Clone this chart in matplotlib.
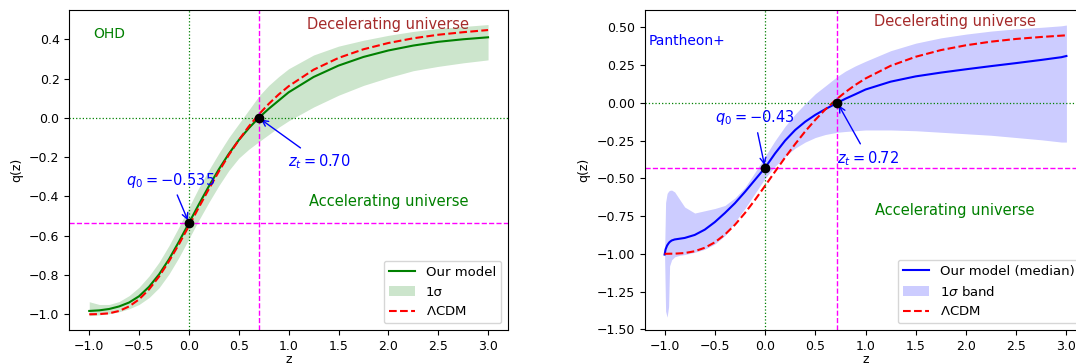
import matplotlib
matplotlib.use("Agg")
import matplotlib.pyplot as plt

# ---------------- data ----------------
# LambdaCDM reference curve
z_lcdm = [-1.0, -0.9, -0.8, -0.7, -0.6, -0.5, -0.4, -0.3, -0.2, -0.1, 0.0,
          0.1, 0.2, 0.3, 0.4, 0.5, 0.6, 0.7, 0.8, 0.9, 1.0,
          1.25, 1.5, 1.75, 2.0, 2.25, 2.5, 2.75, 3.0]
q_lcdm = [-1.000, -0.999, -0.995, -0.983, -0.960, -0.924, -0.873, -0.808, -0.730, -0.643, -0.550,
          -0.455, -0.362, -0.273, -0.189, -0.113, -0.044, 0.017, 0.071, 0.119, 0.161,
          0.245, 0.305, 0.349, 0.381, 0.405, 0.423, 0.436, 0.447]

# OHD panel
z_ohd = z_lcdm
q_ohd = [-0.983, -0.980, -0.973, -0.960, -0.940, -0.908, -0.860, -0.797, -0.720, -0.630, -0.535,
         -0.440, -0.348, -0.262, -0.183, -0.113, -0.053, 0.000, 0.046, 0.088, 0.130,
         0.208, 0.266, 0.310, 0.343, 0.368, 0.387, 0.400, 0.410]
ohd_hi = [-0.936, -0.950, -0.950, -0.935, -0.905, -0.862, -0.805, -0.735, -0.650, -0.555, -0.455,
          -0.355, -0.265, -0.180, -0.100, -0.030, 0.040, 0.110, 0.165, 0.210, 0.250,
          0.320, 0.365, 0.395, 0.420, 0.440, 0.455, 0.465, 0.475]
ohd_lo = [-1.007, -1.003, -0.997, -0.987, -0.972, -0.950, -0.915, -0.865, -0.795, -0.710, -0.615,
          -0.520, -0.430, -0.345, -0.268, -0.205, -0.160, -0.122, -0.085, -0.048, -0.015,
          0.055, 0.115, 0.165, 0.205, 0.240, 0.262, 0.280, 0.295]
q0_ohd, zt_ohd = -0.535, 0.70

# Pantheon+ panel
z_pan = [-1.0, -0.99, -0.975, -0.96, -0.95, -0.93, -0.9, -0.85, -0.8, -0.7, -0.6, -0.5,
         -0.4, -0.3, -0.2, -0.1, 0.0, 0.1, 0.2, 0.3, 0.4, 0.5, 0.6, 0.72, 0.8, 0.9, 1.0,
         1.25, 1.5, 1.75, 2.0, 2.25, 2.5, 2.75, 2.95, 3.0]
q_pan = [-1.005, -0.970, -0.945, -0.930, -0.922, -0.912, -0.905, -0.900, -0.895, -0.875, -0.840, -0.790,
         -0.730, -0.665, -0.590, -0.510, -0.430, -0.335, -0.250, -0.180, -0.125, -0.080, -0.042, 0.000,
         0.027, 0.057, 0.088, 0.140, 0.175, 0.200, 0.222, 0.243, 0.263, 0.284, 0.302, 0.310]
pan_hi = [-0.990, -0.660, -0.600, -0.585, -0.580, -0.578, -0.590, -0.640, -0.690, -0.730, -0.715, -0.700,
          -0.680, -0.630, -0.560, -0.460, -0.355, -0.250, -0.155, -0.075, -0.005, 0.060, 0.112, 0.175,
          0.210, 0.245, 0.275, 0.345, 0.395, 0.430, 0.455, 0.475, 0.490, 0.500, 0.510, 0.515]
pan_lo = [-1.020, -1.380, -1.420, -1.350, -1.080, -1.040, -1.020, -1.010, -1.005, -0.990, -0.970, -0.935,
          -0.880, -0.790, -0.700, -0.600, -0.500, -0.420, -0.355, -0.300, -0.260, -0.230, -0.210, -0.195,
          -0.190, -0.185, -0.180, -0.180, -0.185, -0.195, -0.205, -0.215, -0.230, -0.245, -0.260, -0.260]
q0_pan, zt_pan = -0.43, 0.72

# ---------------- figure ----------------
W, H = 1076, 364
fig = plt.figure(figsize=(W / 100, H / 100), dpi=100)
axL = fig.add_axes([69.3 / W, 34 / H, 438.7 / W, 320 / H])
axR = fig.add_axes([644.5 / W, 34 / H, 442 / W, 320 / H])

TICK_FS = 9
TXT_FS = 10.5


def panel(ax, z, q, lo, hi, col, q0, zt, lab_model, lab_band, name, name_xy,
          q0_txt, q0_xy, zt_txt, zt_xy, dec_xy, acc_xy, ylim):
    ax.plot(z, q, color=col, lw=1.5, label=lab_model)
    ax.fill_between(z, lo, hi, color=col, alpha=0.2, linewidth=0, label=lab_band)
    ax.plot(z_lcdm, q_lcdm, 'r--', lw=1.5, label=r'$\Lambda$CDM')
    ax.axhline(0, color='green', ls=':', lw=0.9)
    ax.axvline(0, color='green', ls=':', lw=0.9)
    ax.axvline(zt, color='magenta', ls='--', lw=1.0)
    ax.axhline(q0, color='magenta', ls='--', lw=1.0)
    ax.plot([0, zt], [q0, 0], 'ko', ms=6, zorder=5)
    ax.annotate(q0_txt, xy=(0, q0), xytext=q0_xy, color='blue', fontsize=10.5,
                ha='center', va='center',
                arrowprops=dict(arrowstyle='->', color='blue', lw=1))
    ax.annotate(zt_txt, xy=(zt, 0), xytext=zt_xy, color='blue', fontsize=10.5,
                ha='center', va='center',
                arrowprops=dict(arrowstyle='->', color='blue', lw=1))
    ax.text(dec_xy[0], dec_xy[1], 'Decelerating universe', color='brown',
            fontsize=TXT_FS, ha='center', va='center')
    ax.text(acc_xy[0], acc_xy[1], 'Accelerating universe', color='green',
            fontsize=TXT_FS, ha='center', va='center')
    ax.text(name_xy[0], name_xy[1], name, color=col, fontsize=10,
            transform=ax.transAxes, ha='left', va='center')
    ax.set_xlim(-1.2, 3.2)
    ax.set_ylim(*ylim)
    ax.set_xlabel('z', fontsize=TICK_FS, labelpad=0)
    ax.set_ylabel('q(z)', fontsize=TICK_FS)
    ax.tick_params(labelsize=TICK_FS)
    ax.set_xticks([-1.0, -0.5, 0.0, 0.5, 1.0, 1.5, 2.0, 2.5, 3.0])
    ax.legend(loc='lower right', fontsize=9.5)


panel(axL, z_ohd, q_ohd, ohd_lo, ohd_hi, 'green', q0_ohd, zt_ohd,
      'Our model', '1σ', 'OHD', (0.054, 0.925),
      r'$q_0 = -0.535$', (-0.18, -0.317), r'$z_t = 0.70$', (1.31, -0.223),
      (2.0, 0.477), (2.005, -0.427), (-1.08, 0.549))
axL.set_yticks([-1.0, -0.8, -0.6, -0.4, -0.2, 0.0, 0.2, 0.4])

panel(axR, z_pan, q_pan, pan_lo, pan_hi, 'blue', q0_pan, zt_pan,
      'Our model (median)', r'1$\sigma$ band', 'Pantheon+', (0.01, 0.903),
      r'$q_0 = -0.43$', (-0.105, -0.099), r'$z_t = 0.72$', (1.03, -0.368),
      (1.895, 0.537), (1.89, -0.715), (-1.5046, 0.6146))
axR.set_yticks([-1.5, -1.25, -1.0, -0.75, -0.5, -0.25, 0.0, 0.25, 0.5])

fig.savefig('out.png', dpi=100)
